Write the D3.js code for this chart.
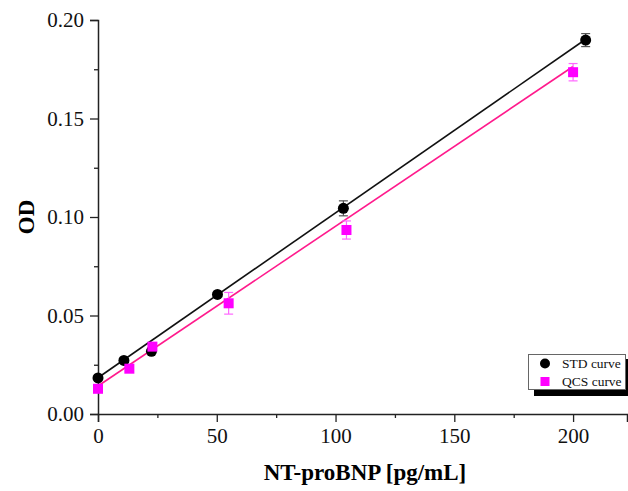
<!DOCTYPE html>
<html><head><meta charset="utf-8">
<script src="https://cdn.jsdelivr.net/npm/d3@7"></script>
<style>body{margin:0;background:#fff}svg{display:block}text{font-family:"Liberation Serif","Times New Roman",serif}</style>
</head><body><svg id="c" width="628" height="491"></svg>
<script>
const stdX = [0, 10.9, 22.5, 50.3, 103.3, 205.3];
const stdY = [0.0183, 0.0272, 0.0318, 0.0607, 0.1044, 0.1898];
const stdErr = [0.0, 0.0, 0.0, 0.0, 0.0038, 0.0033];
const qcsX = [0, 13.2, 22.9, 55.0, 104.6, 200.0];
const qcsY = [0.0128, 0.0230, 0.0342, 0.0562, 0.0934, 0.1735];
const qcsErr = [0.0, 0.0, 0.0, 0.0055, 0.0046, 0.0044];
const stdFit = {intercept: 0.0184, slope: 0.000837, xMax: 205.3};
const qcsFit = {intercept: 0.0142, slope: 0.000811, xMax: 200.0};
const xTicks = [0, 50, 100, 150, 200];
const yTicks = [0.00, 0.05, 0.10, 0.15, 0.20];
const legendLabels = ["STD curve", "QCS curve"];

const svg = d3.select("#c");
const x = d3.scaleLinear().domain([0, 222.7]).range([98, 627]);
const y = d3.scaleLinear().domain([0, 0.2]).range([414, 20]);

// axes
const xAxis = d3.axisBottom(x).tickValues(xTicks).tickFormat(d3.format("d")).tickSize(8).tickPadding(6);
const gx = svg.append("g").attr("transform", "translate(0,414)").call(xAxis);
gx.selectAll(".tick line").attr("stroke", "#222").attr("stroke-width", 1.3);
gx.selectAll(".tick text").attr("font-size", 21).attr("fill", "#111");
gx.select(".domain").attr("stroke", "#222").attr("stroke-width", 1.5);
svg.append("g").attr("transform", "translate(0,414)")
  .call(d3.axisBottom(x).tickValues([25, 75, 125, 175]).tickFormat("").tickSize(4))
  .call(g => { g.select(".domain").remove(); g.selectAll("line").attr("stroke", "#222").attr("stroke-width", 1.3); });

const yAxis = d3.axisLeft(y).tickValues(yTicks).tickFormat(d3.format(".2f")).tickSize(8).tickPadding(6);
const gy = svg.append("g").attr("transform", "translate(98,0)").call(yAxis);
gy.selectAll(".tick line").attr("stroke", "#222").attr("stroke-width", 1.3);
gy.selectAll(".tick text").attr("font-size", 21).attr("fill", "#111");
gy.select(".domain").attr("stroke", "#222").attr("stroke-width", 1.5);
svg.append("g").attr("transform", "translate(98,0)")
  .call(d3.axisLeft(y).tickValues([0.025, 0.075, 0.125, 0.175]).tickFormat("").tickSize(4))
  .call(g => { g.select(".domain").remove(); g.selectAll("line").attr("stroke", "#222").attr("stroke-width", 1.3); });

// axis titles
svg.append("text").attr("x", 365).attr("y", 480).attr("text-anchor", "middle")
  .attr("font-size", 23).attr("font-weight", "bold").text("NT-proBNP [pg/mL]");
svg.append("text").attr("transform", "translate(34,217) rotate(-90)").attr("text-anchor", "middle")
  .attr("font-size", 23).attr("font-weight", "bold").text("OD");

// fit lines
const fitLine = (f, color) => svg.append("line")
  .attr("x1", x(0)).attr("y1", y(f.intercept))
  .attr("x2", x(f.xMax)).attr("y2", y(f.intercept + f.slope * f.xMax))
  .attr("stroke", color).attr("stroke-width", 1.6);
fitLine(stdFit, "#111");
fitLine(qcsFit, "#ff1a8c");

// error bars
function errBars(xs, ys, es, color) {
  const g = svg.append("g").attr("stroke", color).attr("stroke-width", 1.2);
  xs.forEach((xv, i) => {
    if (!es[i]) return;
    const cx = x(xv), t = y(ys[i] + es[i]), b = y(ys[i] - es[i]);
    g.append("line").attr("x1", cx).attr("x2", cx).attr("y1", t).attr("y2", b);
    g.append("line").attr("x1", cx - 4.5).attr("x2", cx + 4.5).attr("y1", t).attr("y2", t);
    g.append("line").attr("x1", cx - 4.5).attr("x2", cx + 4.5).attr("y1", b).attr("y2", b);
  });
}
errBars(stdX, stdY, stdErr, "#555");
errBars(qcsX, qcsY, qcsErr, "#ff66ff");

// markers
svg.append("g").selectAll("circle").data(stdX).join("circle")
  .attr("cx", (d) => x(d)).attr("cy", (d, i) => y(stdY[i])).attr("r", 5.5).attr("fill", "#000");
svg.append("g").selectAll("rect").data(qcsX).join("rect")
  .attr("x", (d) => x(d) - 5).attr("y", (d, i) => y(qcsY[i]) - 5)
  .attr("width", 10).attr("height", 10).attr("fill", "#ff00ff");

// legend
const lg = svg.append("g");
lg.append("rect").attr("x", 534).attr("y", 359).attr("width", 94).attr("height", 37).attr("fill", "#000");
lg.append("rect").attr("x", 528.5).attr("y", 354.5).attr("width", 97).attr("height", 35)
  .attr("fill", "#fff").attr("stroke", "#666").attr("stroke-width", 1);
lg.append("circle").attr("cx", 545).attr("cy", 363.5).attr("r", 5).attr("fill", "#000");
lg.append("rect").attr("x", 540.5).attr("y", 377).attr("width", 9).attr("height", 9).attr("fill", "#ff00ff");
lg.selectAll("text.l").data(legendLabels).join("text").attr("class", "l")
  .attr("x", 562).attr("y", (d, i) => 368 + i * 18).attr("font-size", 13.5).attr("fill", "#111").text(d => d);
</script></body></html>
